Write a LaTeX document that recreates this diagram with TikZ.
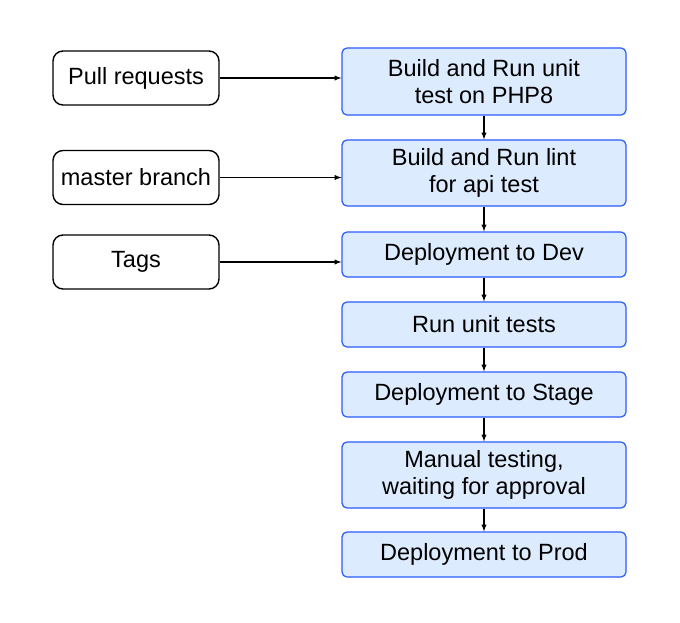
\documentclass[tikz,border=0pt]{standalone}
\usepackage{fontspec}
\setmainfont{Liberation Sans}
\usepackage{tikz}
\usetikzlibrary{positioning}
\usetikzlibrary{arrows}
\usepackage{xcolor}
\definecolor{stepfill}{HTML}{DCEBFD}
\definecolor{stepline}{HTML}{2A5BFF}
\tikzset{
font={\fontsize{23.5pt}{27}\selectfont}}
\tikzset{
trigger/.style={draw=black, line width=1.4pt, rounded corners=10pt, minimum width=166pt, minimum height=54pt, align=center, inner sep=0pt},
stepbox/.style={draw=stepline, fill=stepfill, line width=1.2pt, rounded corners=5pt, minimum width=284pt, minimum height=45pt, align=center, inner sep=0pt},
flow/.style={line width=1.3pt, arrows={-latex}}}

\begin{document}
\begin{tikzpicture}[x=1pt, y=1pt]
    % Canvas
    \useasboundingbox [fill=white] (0, 0) rectangle (680, -623);

    % Triggers
    \node [trigger] (pr) at (136, -78) {Pull requests};
    \node [trigger] (master) at (136, -177.5) {master branch};
    \node [trigger] (tags) at (136, -262) {Tags};

    % Pipeline steps
    \node [stepbox, minimum height=67pt] (build) at (484, -81.5) {Build and Run unit\\test on PHP8};
    \node [stepbox, minimum height=66pt] (lint) at (484, -173) {Build and Run lint\\for api test};
    \node [stepbox] (dev) at (484, -254.5) {Deployment to Dev};
    \node [stepbox] (unit) at (484, -324.5) {Run unit tests};
    \node [stepbox] (stage) at (484, -394.5) {Deployment to Stage};
    \node [stepbox, minimum height=66pt] (manual) at (484, -475) {Manual testing,\\waiting for approval};
    \node [stepbox] (prod) at (484, -554.5) {Deployment to Prod};

    % Trigger arrows
    \draw [flow] (pr.east) -- (pr.east -| build.west);
    \draw [flow] (master.east) -- (master.east -| lint.west);
    \draw [flow] (tags.east) -- (tags.east -| dev.west);

    % Step arrows
    \draw [flow] (build) -- (lint);
    \draw [flow] (lint) -- (dev);
    \draw [flow] (dev) -- (unit);
    \draw [flow] (unit) -- (stage);
    \draw [flow] (stage) -- (manual);
    \draw [flow] (manual) -- (prod);
\end{tikzpicture}
\end{document}
